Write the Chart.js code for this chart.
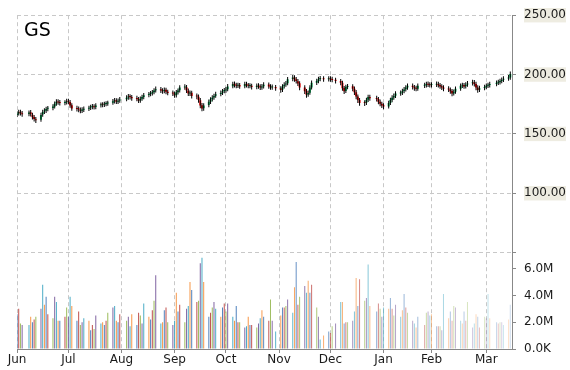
<!DOCTYPE html>
<html>
<head>
<meta charset="utf-8">
<script src="https://cdn.jsdelivr.net/npm/chart.js@4.4.1/dist/chart.umd.min.js"></script>
<style>
  html, body { margin: 0; padding: 0; background: #fff; }
  #wrap { width: 570px; height: 370px; }
</style>
</head>
<body>
<div id="wrap"><canvas id="stockChart" width="570" height="370"></canvas></div>
<script>
// Ticker
const tickerName = 'GS';

// Trading calendar: day offsets from Mon 1 Jun, weekdays only, minus days with no data
const firstDay = 0;
const lastDay = 288;
const skipDays = [4, 63, 150, 178, 185, 207, 235, 277];

// Month ticks (day offsets) and their labels
const monthDays = [0, 30, 61, 92, 122, 153, 183, 214, 242, 274];
const monthNames = ['Jun', 'Jul', 'Aug', 'Sep', 'Oct', 'Nov', 'Dec', 'Jan', 'Feb', 'Mar'];

// Price axis and volume axis ticks
const priceTicks = [50, 100, 150, 200, 250];
const volumeTicks = [0, 2, 4, 6];

// OHLC, one line per week
const opens = [
    166.0, 167.2, 168.6, 167.4,
    166.8, 168.2, 166.2, 164.2, 162.3,
    162.0, 166.3, 168.8, 169.6, 171.2,
    171.8, 173.1, 175.6, 177.4, 176.6,
    176.0, 176.6, 177.8, 176.8, 174.2,
    171.8, 171.2, 170.4, 169.6, 170.4,
    171.2, 172.2, 172.6, 173.3, 172.6,
    174.2, 174.6, 174.5, 175.1, 175.6,
    176.3, 177.6, 178.3, 177.1, 178.2,
    179.3, 180.6, 181.7, 181.0,
    180.0, 179.6, 178.1, 179.7, 181.1,
    182.7, 183.6, 184.2, 185.2, 186.7,
    187.6, 186.4, 186.1, 187.1, 185.6,
    184.6, 184.1, 182.6, 185.2, 186.7,
    189.2, 189.4, 186.4, 184.1, 184.6,
    182.1, 181.4, 178.4, 174.2, 171.6,
    174.3, 177.1, 179.2, 180.6, 182.2,
    183.7, 184.6, 186.2, 186.6, 187.7,
    190.2, 192.2, 191.1, 190.6, 191.1,
    190.2, 192.1, 191.0, 190.4, 190.6,
    189.6, 190.6, 190.1, 189.1, 190.1,
    191.6, 190.1, 189.1, 189.6,
    188.4, 187.2, 190.1, 191.6, 192.7,
    196.2, 197.6, 196.1, 194.4, 192.6,
    189.1, 186.1, 183.2, 184.7, 189.2,
    193.2, 194.6, 196.2, 196.6,
    196.1, 196.6, 196.1, 195.6,
    194.6, 193.1, 188.6, 186.2, 189.6,
    190.1, 188.1, 185.1, 181.6, 178.6,
    176.1, 176.2, 178.7, 181.1,
    180.1, 179.4, 177.1, 175.4, 174.1,
    173.2, 176.1, 178.6, 180.6, 182.1,
    184.1, 184.6, 186.1, 187.6, 189.1,
    190.6, 189.4, 188.6, 188.1,
    190.6, 191.1, 192.1, 191.6, 191.1,
    191.4, 192.1, 191.1, 190.1, 189.1,
    188.1, 187.4, 186.1, 184.1, 185.6,
    188.1, 190.6, 191.1, 190.1, 191.6,
    192.6, 193.6, 192.1, 189.1, 187.1,
    188.6, 189.6, 190.6, 191.1,
    192.1, 193.1, 193.6, 194.6, 195.6,
    196.6, 197.6
];
const highs = [
    169.0, 170.4, 170.3, 169.2,
    169.8, 170.1, 167.9, 166.0, 164.3,
    167.9, 170.3, 171.6, 172.9, 173.6,
    175.0, 177.4, 179.1, 179.2, 178.5,
    178.4, 179.6, 179.7, 178.5, 175.8,
    173.7, 173.0, 172.3, 172.4, 173.1,
    173.8, 174.5, 175.1, 175.0, 175.9,
    176.4, 176.7, 177.0, 177.5, 178.0,
    179.5, 180.2, 180.1, 179.9, 181.1,
    182.5, 183.6, 183.4, 182.8,
    182.1, 181.2, 181.5, 182.9, 184.5,
    185.4, 186.1, 187.0, 188.5, 189.9,
    189.5, 188.4, 189.0, 188.9, 187.2,
    186.6, 185.8, 186.9, 188.3, 190.9,
    191.9, 191.1, 188.2, 186.6, 186.3,
    184.1, 183.2, 180.2, 176.1, 175.9,
    178.9, 180.9, 182.5, 183.9, 185.5,
    186.6, 187.9, 188.6, 189.5, 192.0,
    194.0, 194.1, 193.0, 193.0, 192.8,
    193.9, 193.9, 192.9, 192.6, 192.2,
    192.4, 192.6, 191.8, 192.0, 193.5,
    193.3, 191.8, 191.6, 191.2,
    190.1, 191.9, 193.5, 194.6, 198.0,
    199.7, 199.5, 197.9, 196.2, 194.3,
    190.9, 187.9, 186.5, 190.9, 194.9,
    196.5, 198.1, 198.7, 198.5,
    198.6, 198.5, 198.1, 197.3,
    196.3, 194.8, 190.3, 191.4, 192.1,
    191.9, 189.9, 186.9, 183.3, 180.3,
    178.3, 180.4, 182.9, 183.0,
    182.1, 181.2, 178.9, 177.2, 175.9,
    177.9, 180.4, 182.5, 184.0, 186.0,
    186.6, 188.0, 189.5, 191.0, 192.5,
    192.4, 191.3, 190.5, 192.4,
    193.1, 194.0, 194.1, 193.5, 193.6,
    194.1, 193.9, 192.9, 191.9, 190.9,
    190.1, 189.2, 187.9, 187.5, 189.9,
    192.4, 193.1, 192.9, 193.5, 194.5,
    195.6, 195.4, 193.9, 190.9, 190.5,
    191.5, 192.5, 193.1, 194.0,
    195.0, 195.6, 196.5, 197.5, 198.5,
    199.6, 202.6
];
const lows = [
    164.2, 165.5, 165.6, 164.5,
    164.9, 164.6, 162.1, 160.5, 159.2,
    160.3, 164.5, 166.7, 167.7, 169.1,
    169.9, 171.4, 173.7, 174.6, 174.0,
    174.1, 174.7, 175.0, 172.1, 169.5,
    168.9, 168.3, 167.5, 167.7, 168.5,
    169.3, 170.2, 170.7, 170.5, 170.7,
    172.3, 172.5, 172.6, 173.3, 173.7,
    174.5, 175.7, 175.1, 175.3, 176.3,
    177.5, 178.7, 179.0, 178.0,
    177.5, 176.0, 176.3, 177.9, 179.3,
    180.8, 181.7, 182.3, 183.4, 184.9,
    184.5, 183.9, 184.3, 183.5, 182.5,
    181.9, 180.5, 180.7, 183.3, 184.9,
    187.3, 184.5, 181.9, 182.0, 179.9,
    179.3, 176.3, 171.7, 169.1, 169.6,
    172.5, 175.3, 177.3, 178.7, 180.4,
    181.7, 182.7, 184.3, 184.7, 185.9,
    188.4, 189.0, 188.5, 188.7, 188.0,
    188.4, 189.1, 188.5, 188.4, 187.5,
    187.7, 188.0, 187.0, 187.2, 188.3,
    188.0, 187.1, 187.2, 186.3,
    184.6, 185.4, 188.3, 189.7, 190.9,
    194.3, 193.9, 192.4, 190.3, 186.7,
    183.7, 180.5, 181.3, 182.9, 187.4,
    191.3, 192.7, 194.3, 194.0,
    194.2, 194.0, 193.5, 192.5,
    190.9, 186.3, 183.7, 184.4, 187.7,
    185.9, 182.7, 179.3, 176.1, 173.7,
    173.5, 174.4, 176.9, 178.0,
    177.4, 174.9, 173.3, 171.8, 170.7,
    171.4, 174.3, 176.7, 178.7, 180.3,
    182.1, 182.7, 184.3, 185.7, 187.3,
    187.5, 186.4, 185.9, 186.3,
    188.7, 189.2, 189.5, 189.0, 189.2,
    189.5, 189.0, 188.0, 186.9, 185.9,
    185.4, 183.9, 181.7, 182.3, 183.8,
    186.3, 188.7, 188.0, 188.3, 189.7,
    190.7, 189.9, 186.8, 184.7, 185.3,
    186.7, 187.7, 188.7, 189.2,
    190.2, 191.2, 191.7, 192.7, 193.7,
    194.7, 195.7
];
const closes = [
    167.0, 168.5, 167.5, 166.5,
    168.0, 166.5, 164.0, 162.5, 161.5,
    166.0, 168.5, 169.5, 171.0, 171.5,
    173.0, 175.5, 177.0, 176.5, 176.0,
    176.5, 177.5, 177.0, 174.0, 171.5,
    171.0, 170.5, 169.5, 170.5, 171.0,
    172.0, 172.5, 173.0, 172.5, 174.0,
    174.5, 174.5, 175.0, 175.5, 176.0,
    177.5, 178.0, 177.0, 178.0, 179.0,
    180.5, 181.5, 181.0, 180.0,
    179.5, 178.0, 179.5, 181.0, 182.5,
    183.5, 184.0, 185.0, 186.5, 187.5,
    186.5, 186.0, 187.0, 185.5, 184.5,
    184.0, 182.5, 185.0, 186.5, 189.0,
    189.5, 186.5, 184.0, 184.5, 182.0,
    181.5, 178.5, 174.0, 171.5, 174.0,
    177.0, 179.0, 180.5, 182.0, 183.5,
    184.5, 186.0, 186.5, 187.5, 190.0,
    192.0, 191.0, 190.5, 191.0, 190.0,
    192.0, 191.0, 190.5, 190.5, 189.5,
    190.5, 190.0, 189.0, 190.0, 191.5,
    190.0, 189.0, 189.5, 188.5,
    187.0, 190.0, 191.5, 192.5, 196.0,
    197.5, 196.0, 194.5, 192.5, 189.0,
    186.0, 183.0, 184.5, 189.0, 193.0,
    194.5, 196.0, 196.5, 196.0,
    196.5, 196.0, 195.5, 194.5,
    193.0, 188.5, 186.0, 189.5, 190.0,
    188.0, 185.0, 181.5, 178.5, 176.0,
    176.0, 178.5, 181.0, 180.0,
    179.5, 177.0, 175.5, 174.0, 173.0,
    176.0, 178.5, 180.5, 182.0, 184.0,
    184.5, 186.0, 187.5, 189.0, 190.5,
    189.5, 188.5, 188.0, 190.5,
    191.0, 192.0, 191.5, 191.0, 191.5,
    192.0, 191.0, 190.0, 189.0, 188.0,
    187.5, 186.0, 184.0, 185.5, 188.0,
    190.5, 191.0, 190.0, 191.5, 192.5,
    193.5, 192.0, 189.0, 187.0, 188.5,
    189.5, 190.5, 191.0, 192.0,
    193.0, 193.5, 194.5, 195.5, 196.5,
    197.5, 200.5
];

// Volume in millions
const volumes = [
    2.6, 3.0, 1.9, 1.8,
    1.8, 2.4, 2.0, 2.2, 2.4,
    3.0, 4.8, 3.3, 3.9, 2.6,
    2.3, 3.9, 3.5, 2.1, 2.1,
    2.4, 3.1, 2.4, 3.9, 3.2,
    2.1, 2.8, 1.8, 2.0, 2.3,
    2.1, 1.4, 1.8, 1.5, 2.5,
    1.9, 2.0, 1.8, 2.1, 2.7,
    3.1, 3.2, 2.1, 2.0, 2.6,
    2.1, 2.4, 1.7, 2.6,
    1.8, 2.7, 2.5, 1.9, 3.4,
    2.4, 2.2, 2.9, 3.6, 5.5,
    1.9, 2.0, 2.9, 3.1, 2.0,
    1.8, 2.1, 4.2, 2.8, 3.3,
    2.0, 3.0, 3.2, 5.0, 4.4,
    3.5, 3.6, 6.4, 6.8, 5.0,
    2.4, 2.7, 3.1, 3.5, 3.0,
    2.4, 3.1, 3.4, 2.8, 3.4,
    2.4, 2.1, 3.2, 2.0, 2.0,
    1.6, 1.7, 2.4, 1.8, 1.8,
    1.6, 1.9, 2.3, 2.9, 2.4,
    2.1, 3.7, 2.1, 1.3,
    2.5, 3.1, 3.1, 3.2, 3.7,
    2.7, 4.6, 6.5, 3.3, 3.9,
    4.7, 4.2, 5.1, 4.2, 4.8,
    3.1, 2.4, 0.7, 1.0,
    1.3, 1.2, 1.7, 1.9,
    3.5, 3.5, 1.9, 2.0, 2.0,
    2.1, 2.8, 5.3, 3.2, 5.2,
    3.6, 3.8, 6.3, 3.2,
    2.8, 3.4, 3.0, 2.4, 3.1,
    3.0, 3.8, 3.0, 2.5, 3.3,
    2.4, 2.9, 4.1, 3.1, 2.7,
    2.1, 1.9, 1.6, 2.4,
    1.8, 2.7, 2.8, 2.5, 2.6,
    1.7, 1.7, 1.7, 1.4, 4.1,
    2.3, 2.8, 2.1, 3.2, 3.1,
    2.1, 1.9, 2.8, 2.1, 3.5,
    1.6, 1.9, 2.6, 2.4, 1.6,
    2.4, 2.3, 4.1, 2.3,
    2.0, 1.9, 2.0, 2.0, 1.8,
    2.2, 3.3
];

// build the trading days
const days = [];
for (let d = firstDay; d <= lastDay; d++) {
    if (d % 7 < 5 && !skipDays.includes(d)) days.push(d);
}
if (days.length !== closes.length) console.error('length mismatch', days.length, closes.length);

// colours
const upColor = '#00a651';
const downColor = '#ff0000';
const palette = [[79, 129, 189], [192, 80, 77], [155, 187, 89], [128, 100, 162], [75, 172, 198], [247, 150, 70]];
const fadeFrom = 95;
const volumeColors = volumes.map((v, i) => {
    const c = palette[i % palette.length];
    const a = i < fadeFrom ? 1 : 1 - 0.72 * (i - fadeFrom) / (volumes.length - 1 - fadeFrom);
    return 'rgba(' + c[0] + ',' + c[1] + ',' + c[2] + ',' + a.toFixed(2) + ')';
});

const labelFont = { family: 'DejaVu Sans', size: 12 };
const gridColor = '#c8c8c8';
const axisColor = '#888888';

// ticker name in the top left corner
const tickerPlugin = {
    id: 'ticker',
    afterDraw(chart) {
        const c = chart.ctx;
        c.save();
        c.font = '19px "DejaVu Sans"';
        c.fillStyle = '#000';
        c.textBaseline = 'alphabetic';
        c.fillText(tickerName, 24, 36);
        c.restore();
    }
};

const ctx = document.getElementById('stockChart');
new Chart(ctx, {
    type: 'bar',
    data: {
        datasets: [{
            label: 'Wick',
            data: days.map((d, i) => ({ x: d, y: [lows[i], highs[i]] })),
            backgroundColor: '#000000',
            barThickness: 1,
            inflateAmount: 0,
            grouped: false,
            yAxisID: 'y'
        }, {
            label: 'Body',
            data: days.map((d, i) => ({ x: d, y: [opens[i], closes[i]] })),
            backgroundColor: closes.map((c, i) => c >= opens[i] ? upColor : downColor),
            barThickness: 2,
            inflateAmount: 0,
            minBarLength: 1,
            grouped: false,
            yAxisID: 'y'
        }, {
            label: 'Volume',
            data: days.map((d, i) => ({ x: d, y: volumes[i] })),
            backgroundColor: volumeColors,
            barThickness: 1,
            inflateAmount: 0,
            grouped: false,
            yAxisID: 'yVol'
        }]
    },
    options: {
        responsive: false,
        animation: false,
        layout: { padding: { left: 17, top: 13, right: 0, bottom: 0 } },
        plugins: {
            legend: { display: false },
            tooltip: { enabled: false }
        },
        scales: {
            x: {
                type: 'linear',
                offset: false,
                min: firstDay,
                max: 289,
                afterBuildTicks: (s) => { s.ticks = monthDays.map(v => ({ value: v })); },
                afterFit: (s) => { s.height = 21; },
                ticks: {
                    autoSkip: false,
                    maxRotation: 0,
                    padding: 0,
                    color: '#1a1a1a',
                    font: labelFont,
                    callback: (v) => monthNames[monthDays.indexOf(v)]
                },
                grid: { offset: false, color: gridColor, tickColor: axisColor, tickLength: 4, tickBorderDash: [] },
                border: { display: true, color: axisColor, dash: [4, 3] }
            },
            y: {
                type: 'linear',
                position: 'right',
                stack: 'panes',
                stackWeight: 239,
                min: 50,
                max: 250,
                afterBuildTicks: (s) => { s.ticks = priceTicks.map(v => ({ value: v })); },
                afterFit: (s) => { s.width = 58; },
                ticks: {
                    autoSkip: false,
                    padding: 8,
                    color: '#1a1a1a',
                    font: labelFont,
                    showLabelBackdrop: true,
                    backdropColor: (c) => (c.tick && c.tick.value === priceTicks[0]) ? 'rgba(0,0,0,0)' : '#eeece1',
                    backdropPadding: 0,
                    callback: (v) => v === priceTicks[0] ? '' : v.toFixed(2)
                },
                grid: { color: gridColor, tickColor: axisColor, tickLength: 4, tickBorderDash: [] },
                border: { display: true, color: axisColor, dash: [4, 3] }
            },
            yVol: {
                type: 'linear',
                position: 'right',
                stack: 'panes',
                stackWeight: 97,
                min: 0,
                max: 7.19,
                afterBuildTicks: (s) => { s.ticks = volumeTicks.map(v => ({ value: v })); },
                afterFit: (s) => { s.width = 58; },
                ticks: {
                    autoSkip: false,
                    padding: 8,
                    color: '#1a1a1a',
                    font: labelFont,
                    callback: (v) => v === 0 ? '0.0K' : v.toFixed(1) + 'M'
                },
                grid: { drawOnChartArea: false, tickColor: axisColor, tickLength: 4 },
                border: { display: true, color: axisColor }
            }
        }
    },
    plugins: [tickerPlugin]
});
</script>
</body>
</html>
